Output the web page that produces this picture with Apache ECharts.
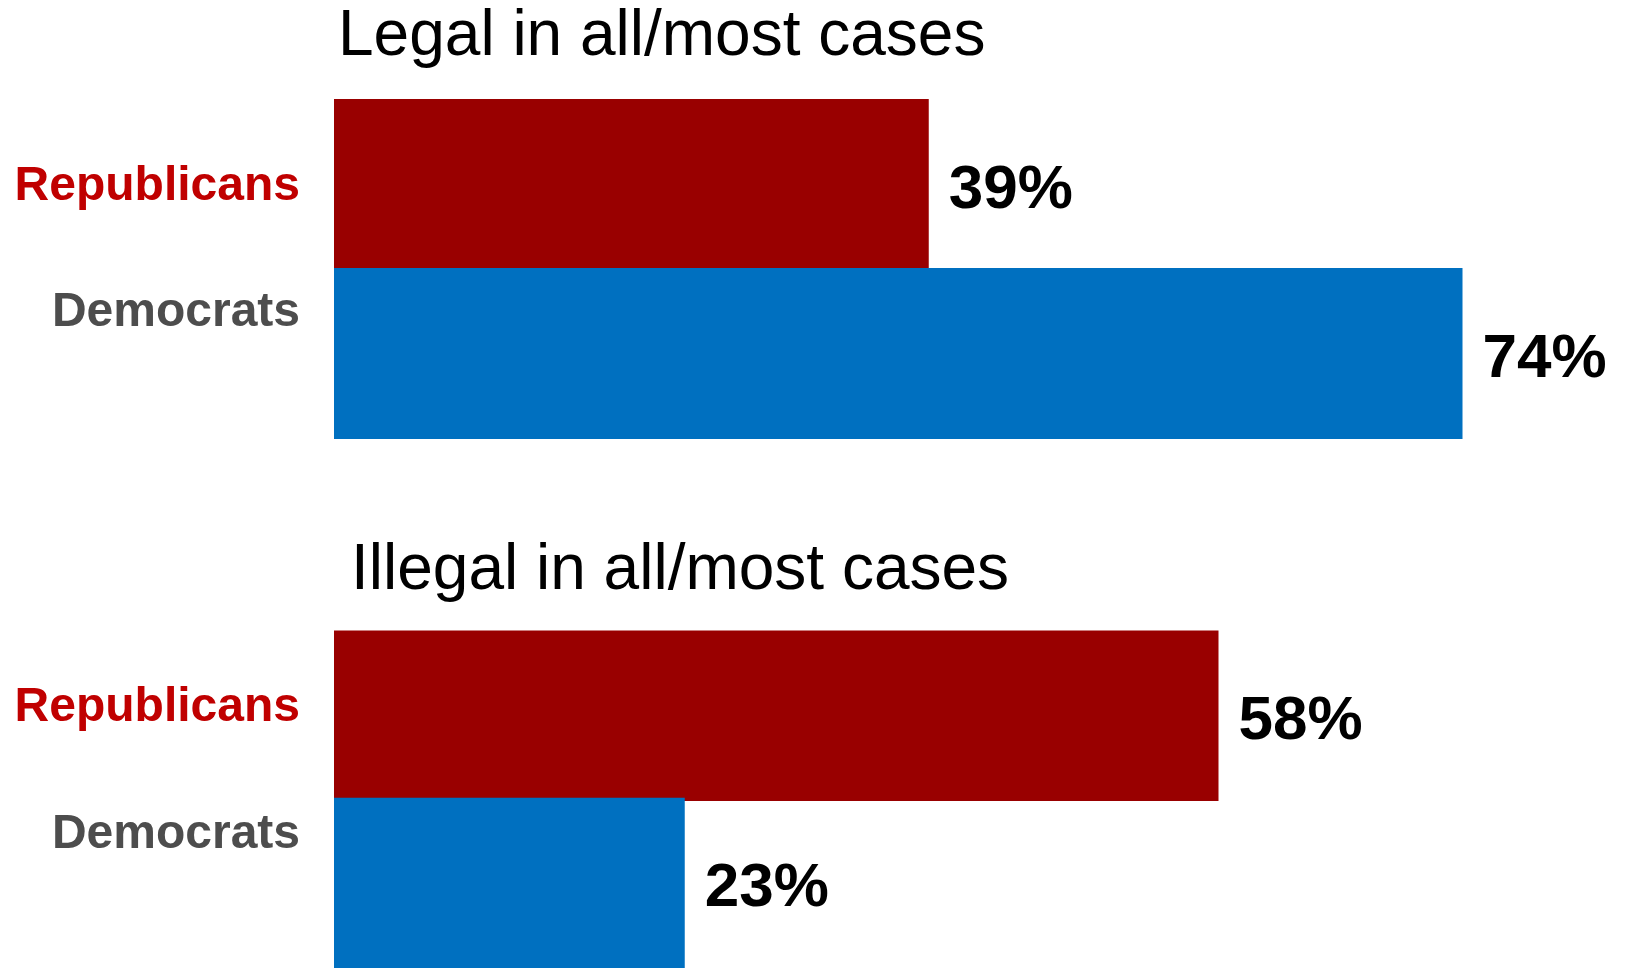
<!DOCTYPE html>
<html>
<head>
<meta charset="utf-8">
<script src="https://cdn.jsdelivr.net/npm/echarts@6/dist/echarts.min.js"></script>
<style>
  html, body { margin: 0; padding: 0; background: #fff; }
  #chart { width: 1625px; height: 968px; }
</style>
</head>
<body>
<div id="chart"></div>
<script>
const categories = ['Republicans', 'Democrats'];
const legalValues = [39, 74];
const illegalValues = [58, 23];
const panelTitles = ['Legal in all/most cases', 'Illegal in all/most cases'];

const FONT = '"Liberation Sans", Arial, Helvetica, sans-serif';
const RED_BAR = '#990000';
const BLUE_BAR = '#0070C0';
const RED_TEXT = '#C00000';
const GRAY_TEXT = '#4D4D4D';

function pad(shift) {
  // shift > 0 moves text up, shift < 0 moves it down
  return shift >= 0 ? [0, 0, shift * 2, 0] : [-shift * 2, 0, 0, 0];
}

function labelRich(repShift, demShift) {
  return {
    rep: { color: RED_TEXT, fontSize: 48, fontWeight: 'bold', fontFamily: FONT, padding: pad(repShift) },
    dem: { color: GRAY_TEXT, fontSize: 48, fontWeight: 'bold', fontFamily: FONT, padding: pad(demShift) }
  };
}

function yAxisFor(gridIndex, repShift, demShift) {
  return {
    type: 'category',
    gridIndex: gridIndex,
    data: categories,
    inverse: true,
    axisLine: { show: false },
    axisTick: { show: false },
    splitLine: { show: false },
    axisLabel: {
      margin: 34,
      formatter: function (v) { return (v === 'Republicans' ? '{rep|' : '{dem|') + v + '}'; },
      rich: labelRich(repShift, demShift)
    }
  };
}

function xAxisFor(gridIndex) {
  return {
    type: 'value', gridIndex: gridIndex, min: 0, max: 80,
    show: false, splitLine: { show: false }
  };
}

function seriesFor(idx, values) {
  return {
    type: 'bar',
    xAxisIndex: idx,
    yAxisIndex: idx,
    barWidth: 172,
    data: values.map(function (v, i) {
      return { value: v, itemStyle: { color: i === 0 ? RED_BAR : BLUE_BAR } };
    }),
    label: {
      show: true,
      position: 'right',
      distance: 20,
      offset: [0, 6],
      formatter: '{c}%',
      fontSize: 62,
      fontWeight: 'bold',
      fontFamily: FONT,
      color: '#000'
    },
    animation: false
  };
}

const chart = echarts.init(document.getElementById('chart'), null, { renderer: 'canvas' });
chart.setOption({
  backgroundColor: '#ffffff',
  animation: false,
  title: [
    { text: panelTitles[0], left: 338, top: 5, padding: 0,
      textStyle: { fontSize: 64, fontWeight: 'normal', color: '#000', fontFamily: FONT } },
    { text: panelTitles[1], left: 351, top: 539, padding: 0,
      textStyle: { fontSize: 64, fontWeight: 'normal', color: '#000', fontFamily: FONT } }
  ],
  grid: [
    { left: 334, top: 99, width: 1220, height: 340 },
    { left: 334, top: 630.5, width: 1220, height: 341 }
  ],
  xAxis: [xAxisFor(0), xAxisFor(1)],
  yAxis: [yAxisFor(0, -3, 41), yAxisFor(1, 7, 49)],
  series: [seriesFor(0, legalValues), seriesFor(1, illegalValues)]
});
</script>
</body>
</html>
